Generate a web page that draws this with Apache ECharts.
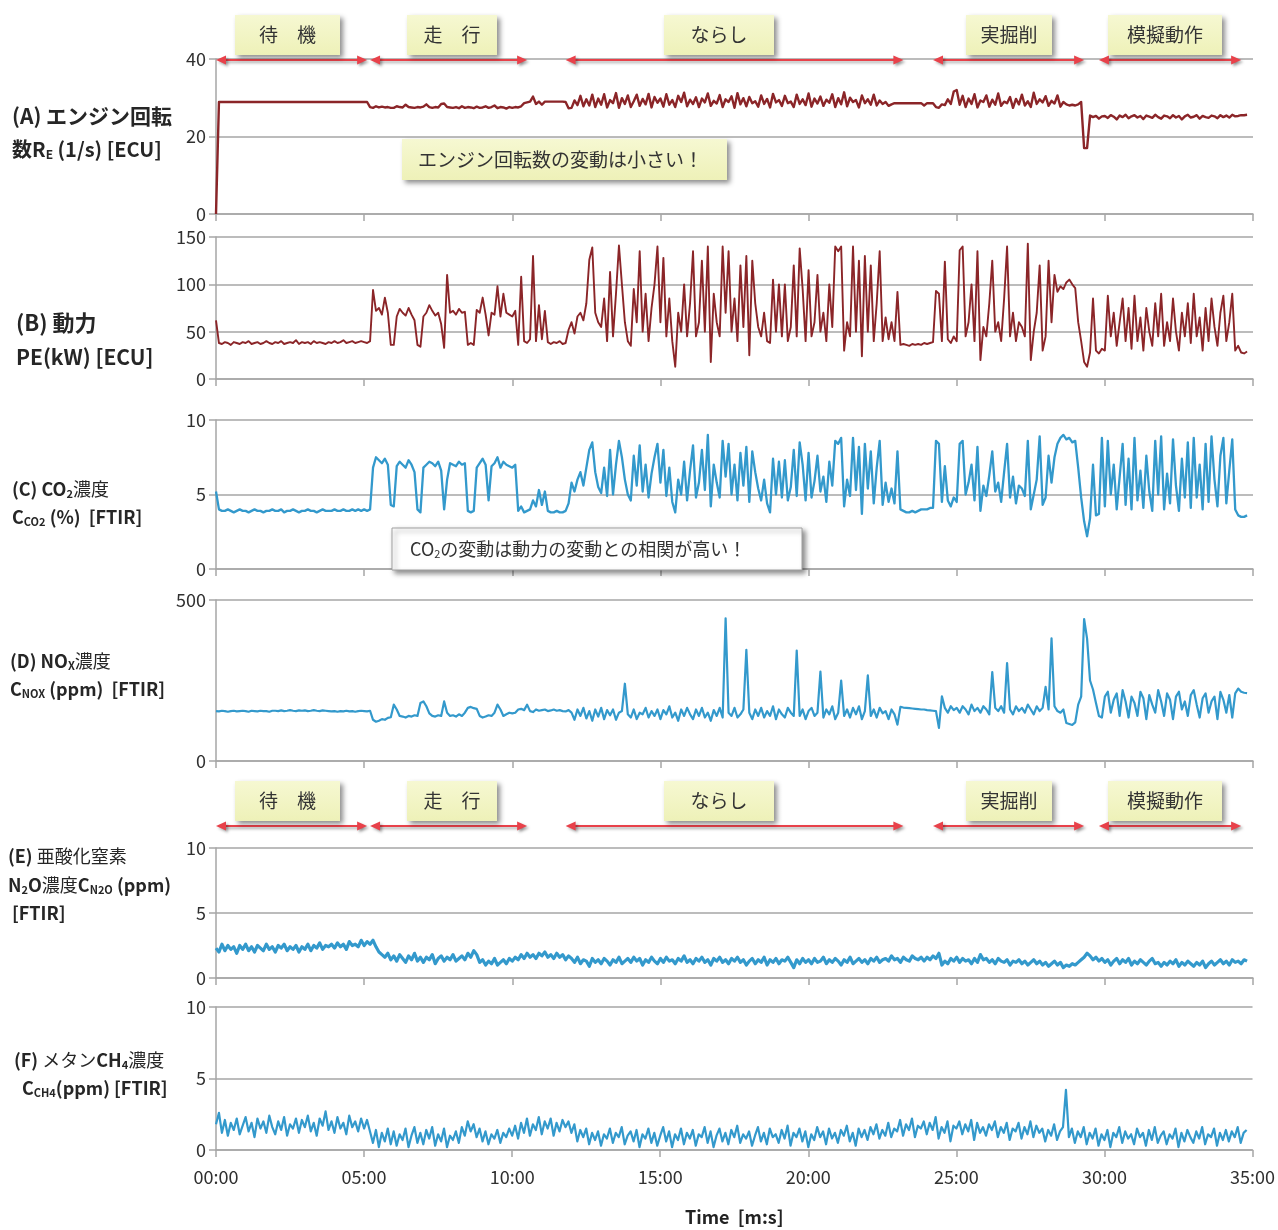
<!DOCTYPE html>
<html>
<head>
<meta charset="utf-8">
<script src="https://cdn.jsdelivr.net/npm/echarts@6/dist/echarts.min.js"></script>
<style>
  html, body { margin: 0; padding: 0; background: #fff; }
  #chart { width: 1278px; height: 1230px; }
</style>
</head>
<body>
<div id="chart"></div>
<script>
// sample spacing of every series, in minutes
const stepMin = 0.1;

// (A) engine speed R_E [1/s], one row per minute
const engineSpeed = [
  0, 28.9, 28.9, 28.9, 28.9, 28.9, 28.9, 28.9, 28.9, 28.9,
  28.9, 28.9, 28.9, 28.9, 28.9, 28.9, 28.9, 28.9, 28.9, 28.9,
  28.9, 28.9, 28.9, 28.9, 28.9, 28.9, 28.9, 28.9, 28.9, 28.9,
  28.9, 28.9, 28.9, 28.9, 28.9, 28.9, 28.9, 28.9, 28.9, 28.9,
  28.9, 28.9, 28.9, 28.9, 28.9, 28.9, 28.9, 28.9, 28.9, 28.9,
  28.9, 28.9, 27.6, 27.4, 27.8, 27.5, 27.7, 27.5, 27.6, 27.4,
  27.4, 27.8, 27.6, 27.5, 28.2, 27.6, 27.5, 27.4, 27.6, 27.5,
  27.7, 28.3, 27.6, 27.4, 27.6, 27.5, 28.4, 28.5, 27.6, 27.5,
  27.4, 27.6, 27.3, 27.8, 27.4, 27.6, 27.5, 27.3, 27.7, 27.4,
  27.5, 27.8, 27.4, 27.6, 28.0, 27.3, 27.6, 27.5, 27.2, 27.6,
  27.4, 27.6, 27.5, 27.8, 28.6, 28.8, 29.0, 30.3, 28.4, 29.0,
  28.2, 29.0, 29.0, 29.0, 29.0, 29.0, 29.0, 29.0, 28.9, 27.3,
  27.4, 29.3, 28.1, 30.5, 27.8, 29.6, 28.0, 30.8, 27.6, 29.8,
  28.2, 30.9, 27.5, 29.4, 28.6, 31.2, 27.4, 29.9, 28.4, 30.6,
  27.6, 29.1, 30.8, 27.9, 29.7, 28.3, 31.0, 27.5, 30.2, 28.7,
  29.8, 27.7, 30.9, 28.2, 29.4, 27.6, 30.5, 28.9, 31.3, 27.8,
  29.5, 28.4, 30.1, 27.6, 29.8, 28.8, 31.1, 27.9, 29.2, 28.5,
  30.7, 27.6, 29.6, 28.9, 30.4, 27.4, 31.2, 28.3, 29.9, 27.8,
  30.2, 28.6, 29.1, 27.7, 30.6, 28.4, 29.7, 27.5, 31.0, 28.8,
  29.4, 27.9, 30.5, 28.6, 29.0, 27.6, 30.8, 28.4, 29.6, 28.1,
  31.1, 27.7, 29.8, 28.5, 30.3, 27.9, 29.5, 28.7, 30.9, 27.6,
  29.9, 28.3, 31.4, 27.8, 30.0, 28.9, 29.4, 27.5, 30.6, 28.6,
  29.6, 28.2, 30.8, 28.0, 29.3, 28.4, 28.9, 27.9, 28.3, 28.6,
  28.6, 28.6, 28.6, 28.6, 28.6, 28.6, 28.6, 28.6, 28.6, 28.0,
  28.6, 28.6, 28.6, 27.6, 27.4, 28.3, 28.1, 29.6, 28.4, 31.6,
  32.0, 28.2, 30.5, 27.6, 29.8, 28.4, 30.9, 27.5, 29.3, 28.9,
  30.6, 27.7, 29.5, 28.2, 31.1, 27.9, 29.0, 28.6, 30.2, 27.4,
  29.7, 28.3, 30.8, 28.0, 29.1, 27.6, 31.3, 28.4, 29.6, 28.8,
  30.4, 27.9, 29.2, 28.5, 30.6, 27.7, 28.9, 28.3, 28.0, 28.2,
  28.0, 28.3, 28.9, 17.0, 17.0, 25.4, 25.0, 25.3, 24.6, 25.2,
  25.3, 24.8, 25.5, 25.1, 24.4, 25.4, 25.0, 25.6, 24.7, 25.2,
  25.5, 24.9, 25.3, 24.5, 25.4, 25.1, 24.8, 25.6, 25.0, 24.6,
  25.4, 25.2, 24.7, 25.5, 24.9, 25.3, 24.4, 25.2, 25.6, 24.9,
  25.1, 25.5, 24.6, 25.3, 25.0, 24.8, 25.4, 25.2, 24.7, 25.5,
  25.0, 25.4, 24.9, 25.6, 25.2, 25.3, 25.5, 25.5, 25.6
];

// (B) engine power PE [kW]
const enginePower = [
  62, 38, 37, 39, 38, 36, 39, 38, 37, 39,
  38, 40, 37, 38, 39, 37, 38, 40, 38, 37,
  39, 38, 40, 37, 38, 39, 38, 41, 37, 39,
  38, 39, 37, 40, 38, 39, 38, 37, 39, 38,
  40, 38, 39, 41, 38, 39, 40, 38, 39, 40,
  39, 38, 40, 94, 72, 75, 68, 86, 70, 36,
  36, 66, 74, 70, 67, 75, 68, 62, 36, 34,
  66, 70, 78, 72, 67, 70, 58, 33, 110, 70,
  72, 68, 74, 70, 71, 36, 38, 36, 73, 70,
  86, 68, 46, 70, 68, 98, 66, 90, 70, 68,
  66, 72, 36, 108, 40, 38, 42, 130, 40, 78,
  42, 72, 39, 37, 39, 38, 40, 37, 38, 52,
  60, 48, 66, 70, 62, 80, 126, 139, 70, 60,
  55, 85, 40, 113, 45, 90, 141, 100, 60, 40,
  35, 95, 60, 135, 50, 90, 40, 75, 100, 140,
  60, 128, 45, 85, 40, 13, 70, 50, 100, 45,
  80, 135, 45, 60, 125, 50, 140, 18, 90, 60,
  45, 140, 70, 135, 50, 85, 40, 120, 55, 130,
  25, 125, 80, 55, 45, 70, 40, 38, 105, 50,
  100, 45, 100, 40, 55, 120, 45, 138, 95, 40,
  115, 45, 60, 110, 50, 70, 40, 100, 55, 140,
  135, 140, 30, 60, 45, 140, 50, 125, 24, 130,
  50, 120, 40, 80, 135, 40, 65, 42, 60, 40,
  92, 36, 37, 36, 35, 37, 36, 37, 36, 38,
  37, 38, 39, 93, 90, 40, 124, 42, 38, 45,
  40, 136, 140, 45, 60, 100, 40, 135, 20, 55,
  45, 80, 125, 50, 60, 40, 85, 140, 45, 70,
  40, 60, 55, 45, 143, 20, 50, 70, 120, 30,
  45, 125, 60, 110, 92, 98, 95, 102, 105, 100,
  96, 60, 40, 18, 13, 28, 85, 30, 27, 32,
  30, 88, 45, 70, 35, 60, 85, 40, 75, 32,
  88, 40, 65, 30, 75, 50, 35, 80, 45, 90,
  35, 60, 40, 85, 50, 30, 70, 45, 80, 38,
  90, 45, 65, 30, 75, 40, 85, 55, 35, 70,
  88, 40, 60, 90, 30, 35, 28, 27, 29
];

// (C) CO2 concentration [%]
const co2 = [
  5.2, 4.0, 3.9, 3.9, 4.0, 3.9, 3.8, 3.9, 4.0, 3.9,
  3.9, 3.8, 3.9, 4.0, 3.9, 3.9, 3.8, 3.9, 3.9, 4.0,
  3.9, 3.9, 4.0, 3.8, 3.9, 3.9, 4.0, 3.9, 3.8, 3.9,
  3.9, 4.0, 3.9, 3.9, 3.8, 3.9, 4.0, 3.9, 3.9, 3.9,
  4.0, 3.9, 3.9, 4.0, 3.9, 3.9, 4.0, 3.9, 4.0, 3.9,
  4.0, 3.9, 4.0, 6.8, 7.5, 7.3, 7.1, 7.4, 7.0, 4.3,
  4.2, 6.9, 7.2, 7.0, 6.8, 7.3, 7.0, 6.5, 4.0, 3.8,
  6.8, 7.0, 7.2, 7.1, 6.9, 7.2, 6.6, 4.0, 6.0, 7.1,
  7.0, 6.9, 7.2, 7.0, 7.1, 3.9, 3.8, 3.9, 6.8, 7.1,
  7.4, 7.0, 4.6, 6.9, 7.1, 7.5, 6.8, 7.2, 7.0, 6.9,
  6.8, 7.0, 3.9, 4.2, 3.8, 3.9, 4.0, 4.6, 4.2, 5.3,
  4.3, 5.2, 3.9, 3.8, 3.8, 3.9, 3.8, 3.8, 3.9, 4.4,
  5.8, 5.2, 6.0, 6.5, 5.6, 6.8, 8.0, 8.5, 6.5, 5.5,
  5.1, 6.8, 4.9, 8.0, 5.0, 7.0, 8.6, 7.5, 6.0, 5.0,
  4.6, 7.6, 5.6, 8.3, 5.2, 7.0, 4.8, 6.4, 7.5, 8.4,
  5.8, 8.0, 4.9, 6.8, 4.5, 3.8, 6.0, 5.0, 7.2, 4.6,
  6.6, 8.3, 4.8, 5.8, 8.0, 5.3, 9.0, 4.2, 7.0, 5.8,
  4.8, 8.6, 6.2, 8.4, 5.0, 7.0, 4.6, 7.8, 5.6, 8.2,
  4.5, 7.9, 6.5, 5.4, 4.6, 6.0, 4.4, 3.8, 7.4, 5.0,
  7.2, 4.8, 7.3, 4.6, 5.5, 8.0, 4.9, 8.5, 7.0, 4.6,
  7.8, 4.8, 5.9, 7.6, 5.2, 6.2, 4.5, 7.2, 5.6, 8.6,
  8.4, 8.8, 4.2, 6.0, 4.9, 8.8, 5.3, 8.2, 3.7, 8.4,
  5.4, 7.9, 4.4, 6.8, 8.6, 4.3, 5.8, 4.5, 5.4, 4.4,
  7.9, 4.0, 3.9, 3.8, 3.8, 3.9, 3.8, 3.9, 4.0, 4.0,
  4.0, 4.1, 4.1, 8.6, 8.4, 4.5, 6.9, 4.6, 4.2, 4.8,
  4.5, 8.4, 8.6, 5.0, 5.8, 7.0, 4.6, 8.2, 3.9, 5.6,
  4.9, 6.3, 7.9, 5.2, 5.8, 4.5, 6.5, 8.4, 4.8, 6.2,
  4.4, 5.6, 5.4, 4.9, 8.6, 4.0, 5.0, 6.0, 8.9, 4.3,
  4.8, 7.6, 5.8, 7.5, 8.4, 8.8, 9.0, 8.7, 8.8, 8.5,
  8.6, 6.8, 4.8, 3.2, 2.2, 3.4, 7.0, 3.6, 3.7, 8.8,
  4.2, 8.6, 5.0, 7.0, 4.0, 6.2, 8.4, 4.3, 7.4, 4.0,
  8.8, 4.6, 6.6, 4.1, 7.6, 5.2, 3.9, 8.6, 5.0, 8.9,
  4.0, 6.4, 4.4, 8.7, 5.6, 3.9, 7.4, 4.8, 8.5, 4.1,
  8.8, 4.8, 7.0, 4.0, 8.4, 4.5, 8.9, 6.0, 4.2, 7.6,
  8.8, 4.4, 6.6, 8.7, 4.0, 3.6, 3.5, 3.5, 3.6
];

// (D) NOx concentration [ppm]
const nox = [
  155, 154, 156, 155, 153, 155, 156, 154, 155, 156,
  155, 153, 156, 155, 154, 156, 155, 155, 153, 156,
  156, 155, 157, 155, 156, 158, 156, 155, 157, 156,
  157, 155, 156, 158, 156, 155, 157, 156, 155, 154,
  155, 153, 155, 154, 156, 154, 155, 153, 155, 156,
  155, 154, 156, 128, 122, 125, 130, 128, 134, 136,
  175, 160, 140, 138, 135, 140, 138, 142, 140, 180,
  185, 170, 148, 140, 138, 142, 140, 185, 150, 140,
  142, 138, 145, 140, 150, 165, 168, 164, 162, 140,
  135, 138, 142, 140, 150, 175, 160, 140, 145, 150,
  148, 150, 160, 162, 158, 175, 155, 152, 160, 156,
  158, 160, 155, 157, 160, 156, 158, 155, 154, 158,
  150, 128, 160, 140, 165, 132, 155, 125, 160, 138,
  165, 130, 158, 142, 160, 128, 150, 155, 240, 145,
  135, 160, 130, 150, 145, 165, 135, 155, 140, 160,
  130, 158, 145, 170, 135, 150, 125, 160, 140, 165,
  145, 130, 160, 140, 165, 135, 150, 125, 158, 140,
  165, 135, 443, 150, 140, 165, 135, 145, 160, 345,
  150, 130, 160, 140, 165, 135, 155, 140, 170, 130,
  160, 145, 135, 165, 150, 140, 343, 140, 160, 130,
  155, 165, 140, 150, 278, 135, 160, 145, 170, 130,
  150, 250, 140, 160, 135, 165, 145, 170, 130, 155,
  266, 140, 160, 135, 165, 148, 155, 130, 160, 145,
  113, 168, 166, 165, 164, 163, 162, 161, 160, 160,
  158, 157, 156, 155, 103, 201, 165, 150, 170, 158,
  165, 150, 170, 160, 145, 175, 155, 165, 150, 170,
  160, 145, 276, 165, 155, 170, 150, 304, 160, 145,
  170, 155, 165, 150, 175, 160, 145, 170, 155, 165,
  230, 160, 381, 170, 155, 150, 160, 118, 115, 112,
  120, 175, 200, 441, 380, 250, 222, 180, 140, 135,
  200, 215, 150, 190, 210, 140, 220, 185, 135, 200,
  180, 140, 215, 195, 130, 205, 175, 150, 220, 185,
  140, 210, 190, 130, 200, 215, 160, 185, 140, 205,
  220, 175, 135, 195, 210, 150, 185, 200, 130, 215,
  190, 150, 205, 135, 210, 225, 215, 212, 211
];

// (E) N2O concentration [ppm]
const n2o = [
  2.3, 2.0, 2.6, 2.1, 2.5, 2.2, 2.4, 1.9, 2.5, 2.2,
  2.6, 2.1, 2.4, 2.0, 2.5, 2.3, 2.1, 2.6, 2.2, 2.4,
  2.0, 2.5, 2.3, 2.6, 2.1, 2.4, 2.2, 2.5, 2.0, 2.4,
  2.2, 2.6, 2.1, 2.5, 2.3, 2.7, 2.2, 2.5, 2.4, 2.6,
  2.3, 2.7, 2.4, 2.6, 2.2, 2.8, 2.5, 2.6, 2.4, 2.9,
  2.5, 2.8, 2.6, 2.9, 2.4, 2.0, 1.8, 1.6, 1.9, 1.4,
  1.7, 1.3, 1.8, 1.5, 1.2, 1.7, 1.4, 1.9, 1.3, 1.6,
  1.2, 1.6, 1.4, 1.8, 1.1, 1.5, 1.7, 1.3, 1.6, 1.4,
  1.8, 1.3, 1.5, 1.7, 1.4, 1.9, 1.6, 2.1, 1.8, 1.2,
  1.4, 1.0, 1.3, 1.1, 1.5, 1.0, 1.2, 1.4, 1.1, 1.5,
  1.3, 1.6, 1.4, 1.8, 1.5, 1.9, 1.6, 1.8, 1.5, 1.9,
  1.7, 2.0, 1.6, 1.8, 1.5, 1.9, 1.6, 1.8, 1.4, 1.7,
  1.5, 1.2, 1.6, 1.1, 1.4, 1.3, 0.9, 1.5, 1.2, 1.4,
  1.1, 1.5, 1.3, 1.0, 1.4, 1.2, 1.6, 1.1, 1.3, 1.5,
  1.2, 1.6, 1.3, 1.5, 1.0, 1.4, 1.2, 1.6, 1.3, 1.1,
  1.5, 1.2, 1.6, 1.3, 1.4, 1.1, 1.5, 1.3, 1.7, 1.2,
  1.4, 1.1, 1.5, 1.3, 1.6, 1.2, 1.4, 1.0, 1.5, 1.3,
  1.6, 1.2, 1.4, 1.1, 1.5, 1.3, 1.6, 1.2, 1.4, 1.0,
  1.3, 1.5, 1.1, 1.4, 1.2, 1.6, 1.0, 1.4, 1.2, 1.5,
  1.1, 1.4, 1.3, 1.6, 1.2, 0.8, 1.4, 1.1, 1.5, 1.2,
  1.4, 1.1, 1.5, 1.2, 1.3, 1.6, 1.1, 1.4, 1.2, 1.5,
  1.3, 1.0, 1.4, 1.2, 1.6, 1.1, 1.3, 1.5, 1.2, 1.4,
  1.1, 1.5, 1.3, 1.6, 1.2, 1.4, 1.5, 1.3, 1.7, 1.4,
  1.5, 1.2, 1.6, 1.4, 1.3, 1.7, 1.5, 1.4, 1.6, 1.3,
  1.6, 1.4, 1.7, 1.5, 1.9, 1.0, 1.3, 1.1, 1.5, 1.3,
  1.6, 1.2, 1.5, 1.3, 1.4, 1.1, 1.5, 1.2, 1.8, 1.4,
  1.5, 1.2, 1.4, 1.1, 1.5, 1.3, 1.2, 1.4, 1.0, 1.3,
  1.2, 1.4, 1.1, 1.3, 1.0, 1.2, 1.4, 1.1, 1.3, 1.0,
  1.2, 0.9, 1.1, 1.3, 1.0, 1.2, 0.8, 1.0, 0.9, 1.1,
  1.0, 1.2, 1.4, 1.6, 1.9, 1.7, 1.4, 1.6, 1.3, 1.5,
  1.2, 1.4, 1.0, 1.3, 1.5, 1.1, 1.4, 1.2, 1.5, 1.0,
  1.3, 1.1, 1.4, 1.2, 1.0, 1.3, 1.5, 1.1, 1.2, 0.9,
  1.2, 1.0, 1.3, 1.1, 1.4, 0.9, 1.2, 1.0, 1.3, 1.1,
  0.9, 1.2, 1.0, 1.3, 0.8, 1.1, 1.3, 1.0, 1.2, 1.4,
  1.1, 1.3, 1.0, 1.4, 1.2, 1.3, 1.1, 1.4, 1.3
];

// (F) CH4 concentration [ppm]
const ch4 = [
  1.8, 2.6, 1.2, 2.1, 1.0, 1.9, 1.4, 2.2, 1.1, 1.7,
  2.3, 1.3, 1.9, 0.9, 2.2, 1.5, 2.0, 1.2, 2.4, 1.6,
  1.1, 2.0, 1.4, 2.3, 1.0, 1.8, 1.5, 2.2, 1.2, 2.1,
  1.6, 2.4, 1.3, 1.9, 1.0, 2.2, 1.7, 2.7, 1.4, 2.0,
  1.2, 2.3, 1.5, 1.9, 1.1, 2.4, 1.6, 2.0, 1.3, 2.2,
  1.5, 2.1, 1.3, 0.5, 1.4, 0.2, 1.2, 0.6, 1.5, 0.4,
  1.3, 0.3, 1.1, 0.7, 1.5, 0.2, 1.0, 1.6, 0.5, 1.2,
  0.4, 1.4, 0.8, 1.6, 0.3, 1.1, 0.6, 1.5, 0.2, 1.0,
  0.7, 1.3, 0.5, 1.6, 1.0, 2.0, 1.3, 1.8, 0.9, 1.5,
  0.6, 1.3, 0.4, 1.1, 0.8, 1.4, 0.5, 1.2, 0.9, 1.5,
  1.0, 1.7, 0.8, 1.9, 1.2, 2.2, 1.0, 1.8, 1.4, 2.3,
  1.1, 2.0, 1.5, 2.2, 1.0, 1.9, 1.3, 2.1, 1.6, 2.0,
  1.2, 1.8, 0.6, 1.4, 0.9, 1.5, 0.4, 1.2, 0.7, 1.3,
  0.3, 1.1, 0.8, 1.5, 0.5, 1.2, 0.9, 1.6, 0.4, 1.0,
  1.3, 0.6, 1.4, 0.2, 1.1, 0.8, 1.5, 0.5, 1.2, 0.3,
  1.0, 1.6, 0.6, 1.3, 0.2, 1.1, 0.7, 1.5, 0.4, 1.2,
  0.8, 1.4, 0.3, 1.1, 0.9, 1.6, 0.5, 1.3, 0.2, 1.0,
  1.5, 0.6, 1.2, 0.4, 1.4, 0.9, 1.7, 0.5, 1.1, 0.8,
  1.3, 0.3, 1.0, 1.6, 0.6, 1.2, 0.4, 1.5, 0.9, 1.1,
  0.5, 1.4, 0.8, 1.7, 0.3, 1.2, 0.9, 1.5, 0.6, 1.3,
  0.2, 1.1, 0.7, 1.6, 0.9, 1.3, 0.4, 1.5, 0.8, 1.2,
  0.5, 1.4, 1.0, 1.7, 0.6, 1.2, 0.3, 1.5, 0.9, 1.4,
  0.7, 1.6, 1.1, 1.8, 0.8, 1.4, 1.0, 1.9, 0.9, 1.5,
  1.3, 2.1, 1.0, 1.8, 1.4, 2.2, 0.9, 1.7, 1.5, 2.0,
  1.1, 1.9, 1.4, 2.3, 0.8, 1.6, 1.2, 2.0, 0.6, 1.7,
  1.5, 2.0, 1.1, 1.8, 1.3, 2.1, 0.7, 1.9, 1.2, 1.6,
  1.0, 1.8, 1.4, 2.0, 0.9, 1.6, 1.2, 1.9, 0.7, 1.5,
  1.3, 1.9, 0.8, 1.6, 1.1, 2.0, 0.9, 1.7, 1.2, 1.5,
  0.6, 1.4, 1.0, 1.8, 0.7, 1.3, 1.6, 4.2, 0.9, 1.5,
  0.5, 1.3, 0.9, 1.6, 0.4, 1.2, 0.8, 1.5, 0.3, 1.1,
  0.7, 1.4, 0.2, 1.2, 0.9, 1.6, 0.5, 1.3, 0.8, 1.1,
  0.4, 1.5, 0.9, 1.2, 0.3, 1.4, 0.7, 1.6, 0.5, 1.0,
  1.3, 0.4, 1.1, 0.8, 1.5, 0.2, 1.2, 0.6, 1.4, 0.9,
  0.5, 1.3, 0.8, 1.6, 0.4, 1.1, 0.9, 1.5, 0.3, 1.2,
  0.7, 1.4, 0.6, 1.3, 0.9, 1.6, 0.5, 1.2, 1.4
];

const timeLabels = ['00:00', '05:00', '10:00', '15:00', '20:00', '25:00', '30:00', '35:00'];

// work phases: names and time spans in minutes
const phaseNames = ['待　機', '走　行', 'ならし', '実掘削', '模擬動作'];
const phaseStart = [0, 5.2, 11.8, 24.2, 29.8];
const phaseEnd = [5.1, 10.5, 23.2, 29.3, 34.6];

const RED = '#8b2528';
const BLUE = '#3399cc';
const GRID_GRAY = '#a6a6a6';
const FONT = '"Noto Sans CJK JP", "Noto Sans", sans-serif';

const panels = [
    { top: 59, height: 155, max: 40, interval: 20, data: engineSpeed, color: RED, width: 2.4 },
    { top: 237, height: 142, max: 150, interval: 50, data: enginePower, color: RED, width: 1.9 },
    { top: 420, height: 149, max: 10, interval: 5, data: co2, color: BLUE, width: 2.3 },
    { top: 600, height: 161, max: 500, interval: 500, data: nox, color: BLUE, width: 2.2 },
    { top: 848, height: 130, max: 10, interval: 5, data: n2o, color: BLUE, width: 3.2 },
    { top: 1007, height: 143, max: 10, interval: 5, data: ch4, color: BLUE, width: 2.2 }
];

function toPoints(values) {
    return values.map((v, i) => [Math.round(i * stepMin * 10) / 10, v]);
}

const chart = echarts.init(document.getElementById('chart'));

const last = panels.length - 1;
const option = {
    animation: false,
    backgroundColor: '#fff',
    textStyle: { fontFamily: FONT },
    grid: panels.map(p => ({ left: 216, right: 25, top: p.top, height: p.height })),
    xAxis: panels.map((p, i) => ({
        type: 'value',
        gridIndex: i,
        min: 0,
        max: 35,
        interval: 5,
        axisLine: { show: true, lineStyle: { color: GRID_GRAY, width: 1.5 } },
        axisTick: { show: true, length: 7, lineStyle: { color: GRID_GRAY, width: 1.5 } },
        splitLine: { show: false },
        axisLabel: {
            show: i === last,
            margin: 18,
            fontSize: 18,
            color: '#303030',
            fontFamily: FONT,
            formatter: v => timeLabels[Math.round(v / 5)]
        },
        name: i === last ? 'Time  [m:s]' : '',
        nameLocation: 'middle',
        nameGap: 58,
        nameTextStyle: { fontSize: 18, fontWeight: 'bold', color: '#222', fontFamily: FONT }
    })),
    yAxis: panels.map((p, i) => ({
        type: 'value',
        gridIndex: i,
        min: 0,
        max: p.max,
        interval: p.interval,
        axisLine: { show: true, lineStyle: { color: GRID_GRAY, width: 1.5 } },
        axisTick: { show: true, length: 7, lineStyle: { color: GRID_GRAY, width: 1.5 } },
        splitLine: { show: true, lineStyle: { color: GRID_GRAY, width: 1.5 } },
        axisLabel: { margin: 10, fontSize: 18, color: '#303030', fontFamily: FONT }
    })),
    series: panels.map((p, i) => ({
        type: 'line',
        xAxisIndex: i,
        yAxisIndex: i,
        data: toPoints(p.data),
        showSymbol: false,
        sampling: 'none',
        lineStyle: { color: p.color, width: p.width, join: 'round' },
        itemStyle: { color: p.color },
        z: 3
    }))
};

chart.setOption(option);

// ---------- annotations ----------
const px = t => chart.convertToPixel({ xAxisIndex: 0 }, t);

function arrow(x1, x2, y) {
    const c = '#e8414a';
    const shadow = { shadowBlur: 3, shadowColor: 'rgba(0,0,0,0.35)', shadowOffsetX: 2, shadowOffsetY: 2 };
    return {
        type: 'group',
        children: [
            { type: 'line', shape: { x1: x1 + 6, y1: y, x2: x2 - 6, y2: y },
              style: Object.assign({ stroke: c, lineWidth: 1.8 }, shadow), z: 20 },
            { type: 'polygon', shape: { points: [[x1, y], [x1 + 10, y - 4.5], [x1 + 10, y + 4.5]] },
              style: Object.assign({ fill: c }, shadow), z: 20 },
            { type: 'polygon', shape: { points: [[x2, y], [x2 - 10, y - 4.5], [x2 - 10, y + 4.5]] },
              style: Object.assign({ fill: c }, shadow), z: 20 }
        ]
    };
}

function noteBox(x, y, w, h, text, fill, stroke, textX, rich) {
    const style = {
        text: text, x: textX, y: y + h / 2,
        fill: '#333', fontSize: 19, fontFamily: FONT,
        textVerticalAlign: 'middle', verticalAlign: 'middle'
    };
    if (textX === null) {
        style.x = x + w / 2;
        style.textAlign = 'center';
        style.align = 'center';
    }
    if (rich) style.rich = rich;
    return {
        type: 'group',
        children: [
            { type: 'rect', shape: { x: x, y: y, width: w, height: h },
              style: { fill: fill, stroke: stroke, lineWidth: stroke ? 1 : 0,
                       shadowBlur: 5, shadowColor: 'rgba(0,0,0,0.45)', shadowOffsetX: 3, shadowOffsetY: 3 }, z: 30 },
            { type: 'text', style: style, z: 31 }
        ]
    };
}

function sideLabel(x, y, text, size) {
    return {
        type: 'text', z: 40,
        style: {
            text: text, x: x, y: y,
            textVerticalAlign: 'middle', verticalAlign: 'middle',
            fill: '#262626', fontFamily: FONT,
            rich: {
                b: { fontSize: size, fontWeight: 'bold', fontFamily: FONT, fill: '#262626' },
                n: { fontSize: size, fontWeight: 'normal', fontFamily: FONT, fill: '#262626' },
                s: { fontSize: Math.round(size * 0.6), fontWeight: 'bold', fontFamily: FONT, fill: '#262626', padding: [Math.round(size * 0.55), 0, 0, 0] }
            }
        }
    };
}

const YELLOW = new echarts.graphic.LinearGradient(0, 0, 0, 1, [
    { offset: 0, color: '#f6f8d2' },
    { offset: 1, color: '#eef1b8' }
]);

// phase label boxes (two rows) and their arrows
const boxPos = [[235, 105], [407, 90], [664, 110], [966, 86], [1108, 114]];
const graphics = [];
[[15, 60], [781, 826]].forEach(([boxTop, arrowY]) => {
    phaseNames.forEach((name, i) => {
        graphics.push(noteBox(boxPos[i][0], boxTop, boxPos[i][1], 40, name, YELLOW, null, null));
        graphics.push(arrow(px(phaseStart[i]), px(phaseEnd[i]), arrowY));
    });
});

// callouts
graphics.push(noteBox(402, 139, 325, 41, 'エンジン回転数の変動は小さい！', YELLOW, null, 418));
graphics.push(noteBox(392, 528, 410, 42, '{n|CO}{s|2}{n|の変動は動力の変動との相関が高い！}', '#fff', '#a0a0a0', 410, {
    n: { fontSize: 18, fontFamily: FONT, fill: '#333' },
    s: { fontSize: 11, fontFamily: FONT, fill: '#333', padding: [10, 0, 0, 0] }
}));

// left-side panel titles
graphics.push(sideLabel(12, 116, '{b|(A) エンジン回転}', 21));
graphics.push(sideLabel(12, 149, '{b|数R}{s|E}{b| (1/s) [ECU]}', 20));
graphics.push(sideLabel(16, 323, '{b|(B) 動力}', 22));
graphics.push(sideLabel(16, 357, '{b|PE(kW) [ECU]}', 21));
graphics.push(sideLabel(12, 489, '{b|(C) CO}{s|2}{n|濃度}', 18));
graphics.push(sideLabel(12, 517, '{b|C}{s|CO2}{b| (%)  [FTIR]}', 18));
graphics.push(sideLabel(10, 661, '{b|(D) NO}{s|X}{n|濃度}', 18));
graphics.push(sideLabel(10, 689, '{b|C}{s|NOX}{b| (ppm)  [FTIR]}', 18));
graphics.push(sideLabel(8, 856, '{b|(E) }{n|亜酸化窒素}', 18));
graphics.push(sideLabel(8, 885, '{b|N}{s|2}{b|O}{n|濃度}{b|C}{s|N2O}{b| (ppm)}', 18));
graphics.push(sideLabel(12, 913, '{b|[FTIR]}', 18));
graphics.push(sideLabel(14, 1060, '{b|(F) }{n|メタン}{b|CH}{s|4}{n|濃度}', 18));
graphics.push(sideLabel(22, 1088, '{b|C}{s|CH4}{b|(ppm) [FTIR]}', 18));

chart.setOption({ graphic: graphics });
</script>
</body>
</html>
